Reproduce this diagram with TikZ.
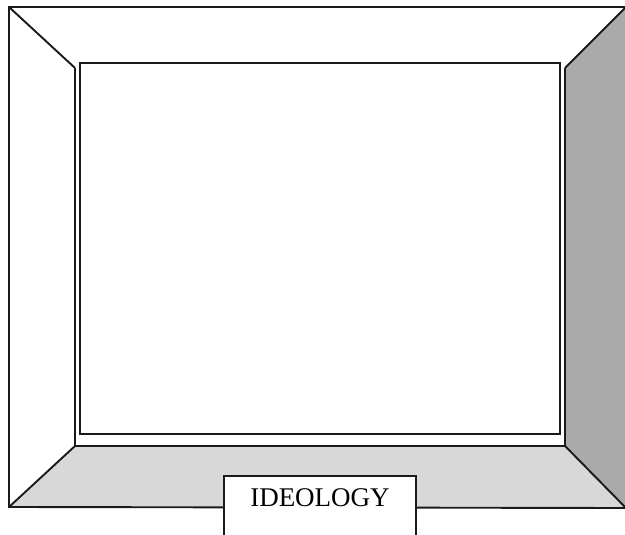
\documentclass[tikz,border=0pt]{standalone}
\usepackage{fontspec}
\setmainfont{Liberation Serif}
\definecolor{floorFill}{HTML}{D8D8D8}
\definecolor{wallFill}{HTML}{AAAAAA}
\definecolor{frameStroke}{HTML}{1A1A1A}
\begin{document}
\begin{tikzpicture}[
  x=1pt,y=-1pt,
  frame/.style={draw=frameStroke,line width=1.9pt,line join=miter},
  window/.style={draw=frameStroke,line width=1.6pt},
  label/.style={rectangle,draw=frameStroke,line width=1.6pt,fill=white,minimum width=192pt,anchor=north,inner xsep=0pt,inner ysep=13pt,text height=18pt,text depth=50pt,font=\fontsize{27}{32}\selectfont}
]
\useasboundingbox (0,0) rectangle (625,535);
\clip (0,0) rectangle (625,535);
% floor and right wall of the box
\fill[floorFill] (9,507) -- (75,446) -- (565,446) -- (626,508) -- cycle;
\fill[wallFill] (565,68) -- (626,7) -- (626,508) -- (565,446) -- cycle;
% outer edges and corner lines
\draw[frame] (626,7) -- (9,7) -- (9,507) -- (626,508);
\draw[frame] (9,7) -- (75,68);
\draw[frame] (626,7) -- (565,68);
\draw[frame] (9,507) -- (75,446);
\draw[frame] (565,446) -- (626,508);
\draw[frame] (75,68) -- (75,446) -- (565,446) -- (565,68);
% the window on the back wall
\draw[window] (80,63) rectangle (560,434);
\node[label] (ideology) at (320,475) {IDEOLOGY};
\end{tikzpicture}
\end{document}
